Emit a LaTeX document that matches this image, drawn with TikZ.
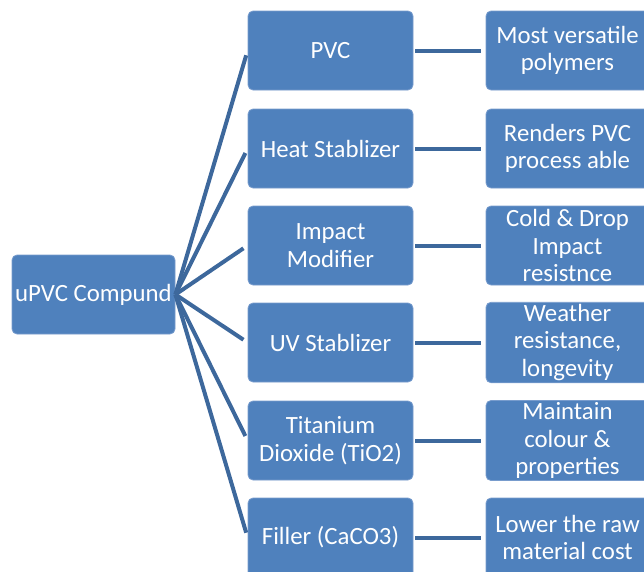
\documentclass[tikz,border=0pt]{standalone}
\usepackage{fontspec}
\setmainfont{Carlito}
\definecolor{boxfill}{RGB}{79,129,189}
\definecolor{boxline}{RGB}{120,156,205}
\definecolor{conn}{RGB}{61,104,156}
\tikzset{
  box/.style={rectangle, rounded corners=5pt, fill=boxfill, draw=boxline, line width=0.8pt,
    minimum height=79pt, inner sep=2pt, align=center, text=white,
    font=\fontsize{24.8}{27.5}\selectfont},
  midbox/.style={box, minimum width=165pt},
  rightbox/.style={box, minimum width=163pt},
  link/.style={draw=conn, line width=4pt},
}
\begin{document}
\begin{tikzpicture}[x=1pt,y=-1pt]
\useasboundingbox (0,0) rectangle (644,571);
\clip (0,0) rectangle (644,571);
\node[box, minimum width=163pt] (root) at (93.5,294.5) {uPVC Compund};
\node[midbox] (m1) at (330.5,50.5) {PVC};
\node[midbox] (m2) at (330.5,148.5) {Heat Stablizer};
\node[midbox] (m3) at (330.5,245.5) {Impact\\Modifier};
\node[midbox] (m4) at (330.5,342.5) {UV Stablizer};
\node[midbox] (m5) at (330.5,440.5) {Titanium\\Dioxide (TiO2)};
\node[midbox] (m6) at (330.5,537.5) {Filler (CaCO3)};
\node[rightbox] (r1) at (567.5,50.5) {Most versatile\\polymers};
\node[rightbox] (r2) at (567.5,148.5) {Renders PVC\\process able};
\node[rightbox] (r3) at (567.5,245.5) {Cold \& Drop\\Impact\\resistnce};
\node[rightbox] (r4) at (567.5,342.5) {Weather\\resistance,\\longevity};
\node[rightbox] (r5) at (567.5,440.5) {Maintain\\colour \&\\properties};
\node[rightbox] (r6) at (567.5,537.5) {Lower the raw\\material cost};
\foreach \i in {1,...,6}{
  \draw[link, shorten >=5pt] (root.east) -- (m\i.west);
  \draw[link, shorten <=2pt, shorten >=5pt] (m\i.east) -- (r\i.west);
}
\end{tikzpicture}
\end{document}
